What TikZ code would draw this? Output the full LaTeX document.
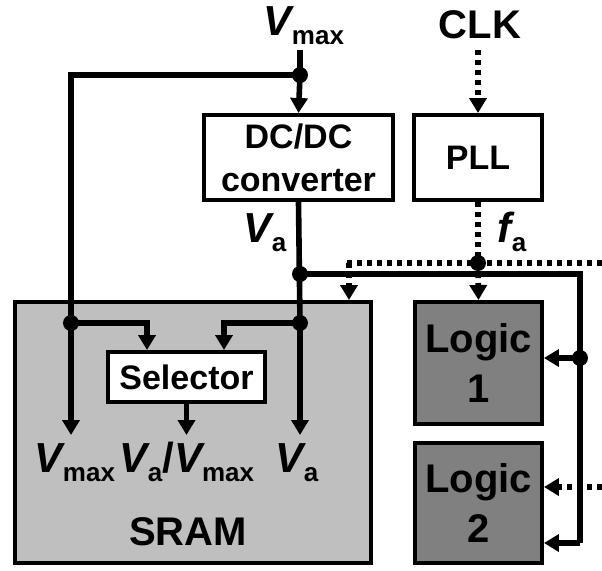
\documentclass[tikz,border=0pt]{standalone}
\usepackage{fontspec}
\setmainfont{Liberation Sans}
\usepackage{tikz}
\usetikzlibrary{arrows.meta}

\newcommand{\Vlab}[2]{{\fontsize{21}{24}\selectfont\itshape #1}\raisebox{-4.5pt}{\fontsize{13}{14}\selectfont #2}}

\begin{document}
\begin{tikzpicture}[x=0.5pt,y=-0.5pt,
	font=\bfseries\fontsize{20}{25}\selectfont,
	wire/.style={line width=2.8pt},
	clk/.style={line width=2.8pt,dash pattern=on 2.6pt off 2.4pt},
	tip/.style={-{Triangle[length=7.5pt,width=8.5pt]}},
	block/.style={draw,line width=2pt,align=center,inner sep=0pt},
	boxtext/.style={font=\bfseries\fontsize{17}{21.5}\selectfont}]
	\useasboundingbox (0,0) rectangle (602,570);

	\node[block,fill=black!25,minimum width=178pt,minimum height=130.5pt] (sram) at (193,432.5) {};
	\node[block,fill=black!50,minimum width=63.5pt,minimum height=61pt] (logic1) at (478.5,363) {Logic\\1};
	\node[block,fill=black!50,minimum width=63.5pt,minimum height=60pt] (logic2) at (478.5,503) {Logic\\2};
	\node[block,fill=white,boxtext,minimum width=94.5pt,minimum height=42.5pt] (dcdc) at (298.5,157.5) {DC/DC\\converter};
	\node[block,fill=white,boxtext,minimum width=64pt,minimum height=42.5pt] (pll) at (478,157.5) {PLL};
	\node[block,fill=white,boxtext,minimum width=78.5pt,minimum height=25pt] (sel) at (186.5,377) {Selector};

	\node[anchor=base] (vmaxlab) at (304,35) {\Vlab{V}{max}};
	\node[anchor=base] (clklab) at (480,38) {CLK};
	\node[anchor=base] (valab) at (265,242) {\Vlab{V}{a}};
	\node[anchor=base] (falab) at (512,242) {\Vlab{f}{a}};
	\node[anchor=base] (smaxlab) at (75,472) {\Vlab{V}{max}};
	\node[anchor=base] (sellab) at (187,472) {\Vlab{V}{a}{\fontsize{21}{24}\selectfont/}\Vlab{V}{max}};
	\node[anchor=base] (salab) at (297,472) {\Vlab{V}{a}};
	\node (sramlab) at (188,532) {SRAM};

	\coordinate (vin) at (300,50);
	\coordinate (j1) at (300,75);
	\coordinate (jl) at (71,323);
	\coordinate (jr) at (300,323);
	\coordinate (jva) at (300,274);
	\coordinate (jc) at (580,358);
	\coordinate (l2in) at (580,543);
	\coordinate (outmax) at (71,435);
	\coordinate (outsel) at (186.5,435);
	\coordinate (outa) at (300,435);
	\coordinate (clkin) at (478,50);
	\coordinate (jf) at (478,263);
	\coordinate (fl) at (347,263);
	\coordinate (fr) at (602,263);
	\coordinate (ftap) at (349,263);
	\coordinate (fin2) at (602,487);

	\draw[wire] (vin) -- (j1);
	\draw[wire,tip] (j1) -- (dcdc.north);
	\draw[wire,tip] (j1) -| (outmax);
	\draw[wire,tip] (jl) -| ([xshift=-19.75pt]sel.north);
	\draw[wire] (dcdc.south) -- (jr);
	\draw[wire,tip] (jr) -- (outa);
	\draw[wire,tip] (jr) -| ([xshift=18.75pt]sel.north);
	\draw[wire,tip] (sel.south) -- (outsel);
	\draw[wire] (jva) -| (l2in);
	\draw[wire,tip] (jc) -- (logic1.east |- jc);
	\draw[wire,tip] (l2in) -- (logic2.east |- l2in);

	\draw[clk,tip] (clkin) -- (pll.north);
	\draw[clk] (pll.south) -- (jf);
	\draw[clk] (fl) -- (fr);
	\draw[clk,tip] (jf) -- (logic1.north);
	\draw[clk,tip] (ftap) -- (sram.north -| ftap);
	\draw[clk,tip] (fin2) -- (logic2.east |- fin2);

	\foreach \p in {j1,jl,jr,jva,jc,jf}{
		\fill (\p) circle (4pt);
	}
\end{tikzpicture}
\end{document}
